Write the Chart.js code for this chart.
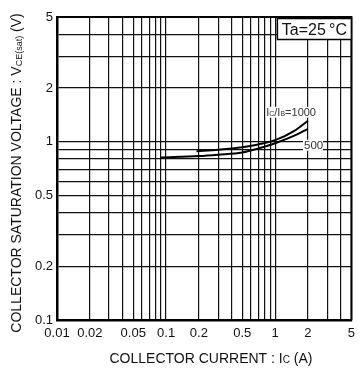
<!DOCTYPE html>
<html>
<head>
<meta charset="utf-8">
<script src="https://cdn.jsdelivr.net/npm/chart.js@4/dist/chart.umd.min.js"></script>
<style>
  html, body { margin: 0; padding: 0; background: #fff; }
</style>
</head>
<body>
<canvas id="vceSat" width="361" height="370"></canvas>
<script>
// Ic/Ib = 1000 curve
const ic1000 = [0.19, 0.3, 0.5, 0.7, 1, 1.5, 2];
const vce1000 = [0.883, 0.90, 0.93, 0.965, 1.02, 1.15, 1.31];
// Ic/Ib = 500 curve
const ic500 = [0.09, 0.2, 0.3, 0.5, 0.7, 1, 1.5, 2];
const vce500 = [0.815, 0.83, 0.845, 0.87, 0.915, 0.98, 1.08, 1.18];

// grid lines and which of them get a number
const xGrid = [0.01, 0.02, 0.03, 0.04, 0.05, 0.06, 0.07, 0.08, 0.09,
               0.1, 0.2, 0.3, 0.4, 0.5, 0.6, 0.7, 0.8, 0.9, 1, 2, 3, 4, 5];
const xLabels = [0.01, 0.02, 0.05, 0.1, 0.2, 0.5, 1, 2, 5];
const yGrid = [0.1, 0.2, 0.3, 0.4, 0.5, 0.6, 0.7, 0.8, 0.9, 1, 2, 3, 4, 5];
const yLabels = [0.1, 0.2, 0.5, 1, 2, 5];

const FONT = "'Liberation Sans', Arial, sans-serif";

// draws text made of runs with different sizes / baseline shifts
function richText(ctx, parts, x, y, align) {
    let w = 0;
    parts.forEach(p => {
        ctx.font = p[1] + 'px ' + FONT;
        w += ctx.measureText(p[0]).width;
    });
    let cx = x;
    if (align === 'center') cx = x - w / 2;
    if (align === 'right') cx = x - w;
    const left = cx;
    ctx.textAlign = 'left';
    ctx.textBaseline = 'alphabetic';
    parts.forEach(p => {
        ctx.font = p[1] + 'px ' + FONT;
        ctx.fillText(p[0], cx, y + (p[2] || 0));
        cx += ctx.measureText(p[0]).width;
    });
    return { left, width: w };
}

const decorations = {
    id: 'decorations',
    afterDraw(chart) {
        const ctx = chart.ctx;
        const area = chart.chartArea;
        const xs = chart.scales.x, ys = chart.scales.y;
        ctx.save();

        // top and right frame
        ctx.strokeStyle = '#000';
        ctx.lineWidth = 2;
        ctx.beginPath();
        ctx.moveTo(area.left, area.top);
        ctx.lineTo(area.right, area.top);
        ctx.lineTo(area.right, area.bottom);
        ctx.stroke();

        // temperature box
        ctx.fillStyle = '#fff';
        ctx.fillRect(area.right - 74, area.top + 1.5, 74, 21);
        ctx.lineWidth = 1.5;
        ctx.strokeRect(area.right - 74, area.top + 1.5, 74, 21);
        ctx.fillStyle = '#111';
        richText(ctx, [['Ta=25', 16], ['\u2009\u00B0', 16], ['C', 16]], area.right - 37, area.top + 18, 'center');

        // curve labels
        const e1 = { x: xs.getPixelForValue(ic1000[ic1000.length - 1]), y: ys.getPixelForValue(vce1000[vce1000.length - 1]) };
        const e2 = { x: xs.getPixelForValue(ic500[ic500.length - 1]), y: ys.getPixelForValue(vce500[vce500.length - 1]) };

        const lab1 = [['I', 11], ['C', 7], ['/I', 11], ['B', 7], ['=1000', 11]];
        ctx.fillStyle = '#fff';
        ctx.fillRect(e1.x - 42, e1.y - 14, 50, 11);
        ctx.fillStyle = '#333';
        richText(ctx, lab1, e1.x + 8, e1.y - 5, 'right');

        ctx.fillStyle = '#fff';
        ctx.fillRect(e2.x - 5, e2.y + 11, 20, 11);
        ctx.fillStyle = '#333';
        richText(ctx, [['500', 11.5]], e2.x - 4, e2.y + 20, 'left');

        // axis titles
        ctx.fillStyle = '#111';
        richText(ctx, [['COLLECTOR CURRENT : I', 14], ['C', 10], [' (A)', 14]], 211, 363, 'center');

        ctx.translate(21, 173);
        ctx.rotate(-Math.PI / 2);
        richText(ctx, [['COLLECTOR SATURATION VOLTAGE : V', 14], ['CE(sat)', 9, 1], [' (V)', 14]], 0, 0, 'center');
        ctx.restore();
    }
};

const curve = (xs, ys) => xs.map((x, i) => ({ x: x, y: ys[i] }));

const ctx = document.getElementById('vceSat').getContext('2d');
new Chart(ctx, {
    type: 'line',
    data: {
        datasets: [{
            label: '1000',
            data: curve(ic1000, vce1000),
            borderColor: '#000',
            borderWidth: 2,
            pointRadius: 0,
            cubicInterpolationMode: 'monotone',
            fill: false
        }, {
            label: '500',
            data: curve(ic500, vce500),
            borderColor: '#000',
            borderWidth: 2,
            pointRadius: 0,
            cubicInterpolationMode: 'monotone',
            fill: false
        }]
    },
    options: {
        responsive: false,
        animation: false,
        devicePixelRatio: 1,
        layout: { padding: { left: 0, top: 17, right: 4, bottom: 0 } },
        plugins: {
            legend: { display: false },
            tooltip: { enabled: false }
        },
        scales: {
            x: {
                type: 'logarithmic',
                min: 0.01,
                max: 5,
                afterBuildTicks: s => { s.ticks = xGrid.map(v => ({ value: v })); },
                afterFit: s => { s.height = 50; },
                ticks: {
                    autoSkip: false,
                    maxRotation: 0,
                    padding: 6,
                    color: '#111',
                    font: { family: FONT, size: 13 },
                    callback: v => xLabels.includes(v) ? String(v) : ''
                },
                grid: { color: '#111', lineWidth: 1.2, drawTicks: false },
                border: { color: '#000', width: 2.5 }
            },
            y: {
                type: 'logarithmic',
                min: 0.1,
                max: 5,
                afterBuildTicks: s => { s.ticks = yGrid.map(v => ({ value: v })); },
                afterFit: s => { s.width = 57; },
                ticks: {
                    autoSkip: false,
                    padding: 4,
                    color: '#111',
                    font: { family: FONT, size: 13 },
                    callback: v => yLabels.includes(v) ? String(v) : ''
                },
                grid: { color: '#111', lineWidth: 1.2, drawTicks: false },
                border: { color: '#000', width: 2.5 }
            }
        }
    },
    plugins: [decorations]
});
</script>
</body>
</html>
